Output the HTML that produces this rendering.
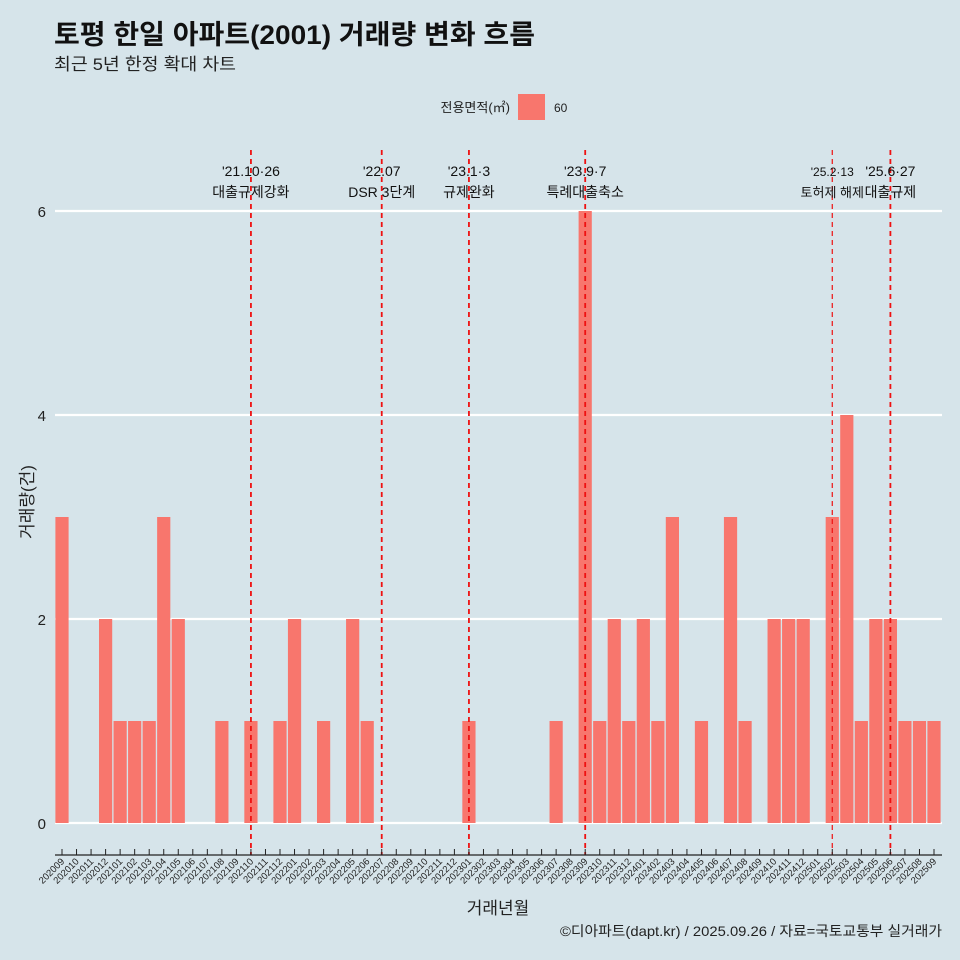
<!DOCTYPE html>
<html><head><meta charset="utf-8">
<style>
body{margin:0;background:#d6e4ea;}
svg{display:block;font-family:"Liberation Sans","Noto Sans CJK KR",sans-serif;}
</style></head>
<body>
<svg id="chart" width="960" height="960" viewBox="0 0 960 960">
<rect width="960" height="960" fill="#d6e4ea"/>
<text x="54" y="44" font-size="27" font-weight="bold" fill="#111" textLength="481" lengthAdjust="spacingAndGlyphs">토평 한일 아파트(2001) 거래량 변화 흐름</text>
<text x="54" y="70" font-size="17" fill="#222" textLength="182" lengthAdjust="spacingAndGlyphs">최근 5년 한정 확대 차트</text>
<g>
<text x="510" y="112" font-size="13" text-anchor="end" fill="#222">전용면적(㎡)</text>
<rect x="518" y="94" width="27" height="26" fill="#f8766d"/>
<text x="554" y="112" font-size="12" fill="#222">60</text>
</g>
<g id="grid"></g>
<g id="bars"></g>
<g id="events"></g>
<g id="axes"></g>
<text x="498" y="914" font-size="17" text-anchor="middle" fill="#222">거래년월</text>
<text transform="translate(33,502) rotate(-90)" font-size="17" text-anchor="middle" fill="#222">거래량(건)</text>
<text x="560" y="936" font-size="14" fill="#222" textLength="382" lengthAdjust="spacingAndGlyphs">©디아파트(dapt.kr) / 2025.09.26 / 자료=국토교통부 실거래가</text>
</svg>
<script>
const months = ["202009","202010","202011","202012","202101","202102","202103","202104","202105","202106","202107","202108","202109","202110","202111","202112","202201","202202","202203","202204","202205","202206","202207","202208","202209","202210","202211","202212","202301","202302","202303","202304","202305","202306","202307","202308","202309","202310","202311","202312","202401","202402","202403","202404","202405","202406","202407","202408","202409","202410","202411","202412","202501","202502","202503","202504","202505","202506","202507","202508","202509"];
const volumes = [3,0,0,2,1,1,1,3,2,0,0,1,0,1,0,1,2,0,1,0,2,1,0,0,0,0,0,0,1,0,0,0,0,0,1,0,6,1,2,1,2,1,3,0,1,0,3,1,0,2,2,2,0,3,4,1,2,2,1,1,1];
const yTicks = [0,2,4,6];
const eventMonths = ["202110","202207","202301","202309","202502","202506"];
const eventDates = ["'21.10·26","'22.07","'23.1·3","'23.9·7","'25.2·13","'25.6·27"];
const eventLabels = ["대출규제강화","DSR 3단계","규제완화","특례대출축소","토허제 해제","대출규제"];

const NS="http://www.w3.org/2000/svg";
const x0=62, step=(934-62)/60, yZero=823, perUnit=102;
const xPos=i=>x0+i*step;
const yPos=v=>yZero-v*perUnit;
function mk(tag,attrs,parent){const e=document.createElementNS(NS,tag);for(const k in attrs)e.setAttribute(k,attrs[k]);parent.appendChild(e);return e;}
const grid=document.getElementById('grid'),bars=document.getElementById('bars'),ev=document.getElementById('events'),axes=document.getElementById('axes');

yTicks.forEach(t=>{
  const l=mk('line',{x1:55,x2:942,y1:yPos(t),y2:yPos(t),stroke:'#fff','stroke-width':2.2},grid);
  
  
  const tx=mk('text',{x:46,y:yPos(t)+6,'font-size':15,'text-anchor':'end',fill:'#222'},axes);
  tx.textContent=t;
  
  
});

volumes.forEach((v,i)=>{
  if(v<=0)return;
  const r=mk('rect',{x:xPos(i)-6.6,y:yPos(v),width:13.2,height:v*perUnit,fill:'#f8766d'},bars);
  
  
});

eventMonths.forEach((m,k)=>{
  const i=months.indexOf(m);const x=xPos(i);
  const small=m==="202502";
  const l=mk('line',{x1:x,x2:x,y1:150,y2:855,stroke:'#ee1111','stroke-width':small?1.2:1.8,'stroke-dasharray':'5,4'},ev);
  
  
  const d=mk('text',{x:x,y:176,'font-size':small?12:14,'text-anchor':'middle',fill:'#111'},ev);
  d.textContent=eventDates[k];
  
  
  const t=mk('text',{x:x,y:197,'font-size':small?13:14,'text-anchor':'middle',fill:'#111'},ev);
  t.textContent=eventLabels[k];
  
  
});

const ax=mk('line',{x1:55,x2:942,y1:855,y2:855,stroke:'#222','stroke-width':1.2},axes);


months.forEach((m,i)=>{
  const x=xPos(i);
  const tk=mk('line',{x1:x,x2:x,y1:849,y2:855,stroke:'#222','stroke-width':1},axes);
  
  
  const t=mk('text',{transform:`translate(${x+3},${862}) rotate(-45)`,'font-size':9.5,'text-anchor':'end',fill:'#222'},axes);
  t.textContent=m;
  
  
});
</script>
</body></html>
